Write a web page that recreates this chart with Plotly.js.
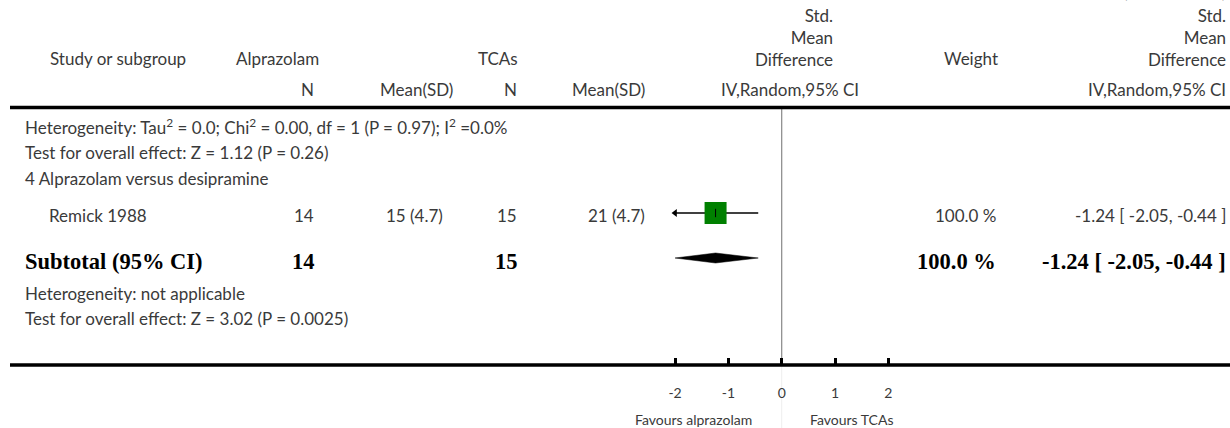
<!DOCTYPE html>
<html>
<head>
<meta charset="utf-8">
<script src="https://cdn.plot.ly/plotly-3.0.1.min.js"></script>
<style>html,body{margin:0;padding:0;background:#fff;}#chart{width:1230px;height:428px;}</style>
</head>
<body>
<div id="chart"></div>
<script>
// ---- data ----
const studies = ["Remick 1988"];
const alpN = [14];
const alpMeanSD = ["15 (4.7)"];
const tcaN = [15];
const tcaMeanSD = ["21 (4.7)"];
const weights = [100.0];
const smd = [-1.24];
const ciLow = [-2.05];
const ciHigh = [-0.44];

const subLabel = "Subtotal (95% CI)";
const subAlpN = 14;
const subTcaN = 15;
const subWeight = 100.0;
const subSmd = -1.24;
const subLow = -2.05;
const subHigh = -0.44;

const subgroupTitle = "4 Alprazolam versus desipramine";
const prevHet = "Heterogeneity: Tau<sup>2</sup> = 0.0; Chi<sup>2</sup> = 0.00, df = 1 (P = 0.97); I<sup>2</sup> =0.0%";
const prevTest = "Test for overall effect: Z = 1.12 (P = 0.26)";
const subHet = "Heterogeneity: not applicable";
const subTest = "Test for overall effect: Z = 3.02 (P = 0.0025)";

const tickVals = [-2, -1, 0, 1, 2];
const tickText = ["-2", "-1", "0", "1", "2"];
const favLeft = "Favours alprazolam";
const favRight = "Favours TCAs";

// ---- layout geometry ----
const W = 1230, H = 428;
const zeroPx = 781.7, unitPx = 53.33;
const axMin = -2, axMax = 2;
const xr = [(0 - zeroPx) / unitPx, (W - zeroPx) / unitPx];
const px = v => v / W;

const rowStudy = 213, rowSub = 258;
const FONT = "Lato, 'Open Sans', sans-serif";
const TXT = "#3a3a3a";
const fs = 17;

const fmt = (e, l, h) => `${e.toFixed(2)} [ ${l.toFixed(2)}, ${h.toFixed(2)} ]`;

const ann = [];
function t(text, xPix, y, align, opts = {}) {
  ann.push(Object.assign({
    text: text, xref: "paper", yref: "y", x: px(xPix), y: y,
    xanchor: align, yanchor: "middle", showarrow: false,
    font: {family: FONT, size: fs, color: TXT}
  }, opts));
}

// top-right cut continuation text
ann.push({text: "(Continued ...)", xref: "paper", yref: "paper", x: px(1228), y: 1,
  xanchor: "right", yanchor: "bottom", yshift: -4, showarrow: false,
  font: {family: FONT, size: fs, color: TXT}});

// headers
t("Study or subgroup", 48, 58, "left");
t("Alprazolam", 234, 58, "left");
t("TCAs", 520, 58, "right");
t("Std.<br>Mean<br>Difference", 835, 37, "right", {align: "right"});
t("Weight", 971, 58, "center");
t("Std.<br>Mean<br>Difference", 1228, 37, "right", {align: "right"});
t("N", 316, 89, "right");
t("Mean(SD)", 455, 89, "right");
t("N", 519, 89, "right");
t("Mean(SD)", 647, 89, "right");
t("IV,Random,95% CI", 790, 89, "center");
t("IV,Random,95% CI", 1228, 89, "right");

// body
t(prevHet, 23, 126, "left");
t(prevTest, 23, 152, "left");
t(subgroupTitle, 23, 178, "left");
studies.forEach((s, i) => {
  const y = rowStudy + 2;
  t(s, 47, y, "left");
  t(String(alpN[i]), 316, y, "right");
  t(alpMeanSD[i], 445, y, "right");
  t(String(tcaN[i]), 519, y, "right");
  t(tcaMeanSD[i], 647, y, "right");
  t(weights[i].toFixed(1) + " %", 998, y, "right");
  t(fmt(smd[i], ciLow[i], ciHigh[i]), 1228, y, "right");
});
const B = {font: {family: "'Liberation Serif', 'Times New Roman', serif", size: 22.5, color: "#000"}};
const bold = s => "<b>" + s + "</b>";
const ys = rowSub + 3;
t(bold(subLabel), 23, ys, "left", B);
t(bold(String(subAlpN)), 317, ys, "right", B);
t(bold(String(subTcaN)), 520, ys, "right", B);
t(bold(subWeight.toFixed(1) + " %"), 998, ys, "right", B);
t(bold(fmt(subSmd, subLow, subHigh)), 1228, ys, "right", B);
t(subHet, 23, 293, "left");
t(subTest, 23, 318, "left");

const FS = {font: {family: FONT, size: 14, color: TXT}};
t(favLeft, 754, 419, "right", FS);
t(favRight, 808, 419, "left", FS);

// ---- traces ----
const traces = [];
studies.forEach((s, i) => {
  const lo = Math.max(ciLow[i], axMin), hi = Math.min(ciHigh[i], axMax);
  traces.push({x: [lo, hi], y: [rowStudy, rowStudy], mode: "lines", line: {color: "#000", width: 1.5}, hoverinfo: "skip"});
  traces.push({x: [smd[i]], y: [rowStudy], mode: "markers", marker: {symbol: "square", size: 22, color: "#008000"}, hoverinfo: "skip"});
  traces.push({x: [smd[i]], y: [rowStudy], mode: "markers", marker: {symbol: "line-ns", size: 6, line: {color: "#000", width: 1}}, hoverinfo: "skip"});
  if (ciLow[i] < axMin) traces.push({x: [axMin], y: [rowStudy], mode: "markers", marker: {symbol: "triangle-left", size: 7, color: "#000"}, hoverinfo: "skip"});
  if (ciHigh[i] > axMax) traces.push({x: [axMax], y: [rowStudy], mode: "markers", marker: {symbol: "triangle-right", size: 7, color: "#000"}, hoverinfo: "skip"});
});
{
  const lo = Math.max(subLow, axMin), hi = Math.min(subHigh, axMax);
  traces.push({x: [lo, subSmd, hi, subSmd, lo], y: [rowSub, rowSub - 5, rowSub, rowSub + 5, rowSub],
    mode: "lines", fill: "toself", fillcolor: "#000", line: {color: "#000", width: 0.5}, hoverinfo: "skip"});
}

const layout = {
  width: W, height: H,
  margin: {l: 0, r: 0, t: 0, b: 0},
  paper_bgcolor: "#fff", plot_bgcolor: "rgba(0,0,0,0)",
  showlegend: false,
  xaxis: {
    range: xr, domain: [0, 1], anchor: "free", position: (H - 365) / H,
    tickmode: "array", tickvals: tickVals, ticktext: tickText,
    ticks: "inside", ticklen: 7, tickwidth: 3, tickcolor: "#000",
    showgrid: false, zeroline: false, showline: false,
    ticklabelstandoff: 18,
    tickfont: {family: FONT, size: 14, color: TXT}, fixedrange: true
  },
  yaxis: {range: [H, 0], domain: [0, 1], visible: false, fixedrange: true},
  shapes: [
    {type: "line", xref: "paper", yref: "y", x0: px(10), x1: 1, y0: 107.5, y1: 107.5, line: {color: "#000", width: 3.5}},
    {type: "line", xref: "paper", yref: "y", x0: px(10), x1: 1, y0: 365, y1: 365, line: {color: "#000", width: 3.5}},
    {type: "line", xref: "x", yref: "y", x0: 0, x1: 0, y0: 109, y1: 364, line: {color: "#888", width: 1.2}, layer: "below"},
    {type: "line", xref: "x", yref: "y", x0: 0, x1: 0, y0: 366, y1: H, line: {color: "#eee", width: 1}, layer: "below"}
  ],
  annotations: ann
};

Plotly.newPlot("chart", traces, layout, {staticPlot: true, displayModeBar: false});
</script>
</body>
</html>
